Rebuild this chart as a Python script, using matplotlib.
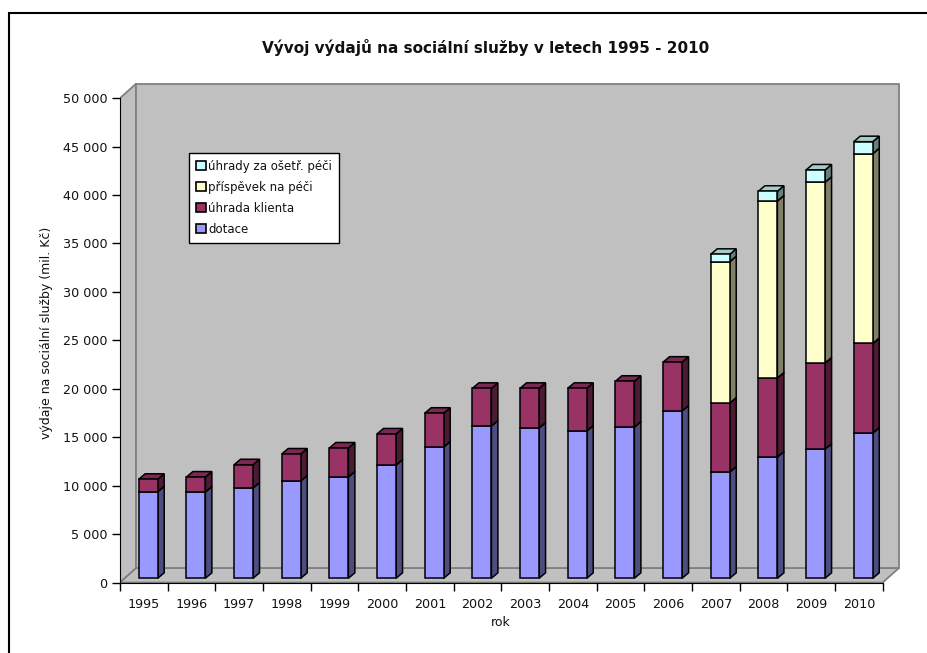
# encoding:utf-8
# social services spending 1995-2010, stacked bars with fake 3D depth

import matplotlib.pyplot as plt
from matplotlib.patches import Polygon, Rectangle

YEARS = ['1995', '1996', '1997', '1998', '1999', '2000', '2001', '2002',
         '2003', '2004', '2005', '2006', '2007', '2008', '2009', '2010']
DOTACE = [8940, 8910, 9320, 10040, 10460, 11690, 13550, 15720,
          15510, 15200, 15610, 17270, 10970, 12520, 13340, 14990]
UHRADA_KLIENTA = [1280, 1540, 2400, 2790, 2990, 3210, 3490, 3890,
                  4100, 4410, 4730, 5040, 7120, 8160, 8890, 9250]
PRISPEVEK = [0, 0, 0, 0, 0, 0, 0, 0, 0, 0, 0, 0, 14590, 18270, 18650, 19590]
UHRADY_OSETR = [0, 0, 0, 0, 0, 0, 0, 0, 0, 0, 0, 0, 760, 1000, 1270, 1240]

Y_TICKS = [0, 5000, 10000, 15000, 20000, 25000, 30000, 35000, 40000, 45000, 50000]

SERIES = [
    (DOTACE, 'dotace', '#9999FF', '#4D4D80', '#7A7ACC'),
    (UHRADA_KLIENTA, 'úhrada klienta', '#993366', '#4D1A33', '#7A2952'),
    (PRISPEVEK, 'příspěvek na péči', '#FFFFCC', '#808066', '#CCCCA3'),
    (UHRADY_OSETR, 'úhrady za ošetř. péči', '#CCFFFF', '#668080', '#A3CCCC'),
]

W, H = 928, 653
X0, Y0 = 120, 582.5       # axis origin, px from top left
CAT_W = 47.67
PX_PER_VAL = 484.4 / 50000
WALL_DX, WALL_DY = 16.2, 14.5


def to_x(px):
    return px / CAT_W


def to_y(px):
    return px / PX_PER_VAL


def draw_walls(ax):
    dx, dy = to_x(WALL_DX), to_y(WALL_DY)
    n = len(YEARS)
    style = dict(facecolor='#C0C0C0', edgecolor='#808080', linewidth=1.3, zorder=1)
    ax.add_patch(Polygon([(0, 0), (dx, dy), (dx, 50000 + dy), (0, 50000)], **style))
    ax.add_patch(Polygon([(0, 0), (n, 0), (n + dx, dy), (dx, dy)], **style))
    ax.add_patch(Rectangle((dx, dy), n, 50000, **style))


def draw_bar(ax, i, bottom, value, front, side, top):
    # front face sits a bit inside the floor
    left = i + to_x(18.7)
    right = left + to_x(19)
    lift = to_y(4.2)
    dx, dy = to_x(6.5), to_y(5.5)
    y1 = bottom + lift
    y2 = bottom + value + lift
    style = dict(edgecolor='black', linewidth=1.1, joinstyle='miter', zorder=3 + i * 0.01)
    ax.add_patch(Polygon([(right, y1), (right + dx, y1 + dy), (right + dx, y2 + dy), (right, y2)],
                         facecolor=side, **style))
    ax.add_patch(Polygon([(left, y2), (right, y2), (right + dx, y2 + dy), (left + dx, y2 + dy)],
                         facecolor=top, **style))
    ax.add_patch(Rectangle((left, y1), right - left, y2 - y1, facecolor=front, **style))


fig = plt.figure(figsize=(W / 100, H / 100), dpi=100)
plt.rcParams['font.family'] = 'DejaVu Sans'

# outer chart frame runs off the picture on the right and bottom
fig.add_artist(Rectangle((9 / W, -0.1), 1.1, 1.1 - 12.7 / H,
                         transform=fig.transFigure, fill=False, edgecolor='black', linewidth=1.5))

plot_w = 782
plot_h = 500
ax = fig.add_axes([X0 / W, 1 - Y0 / H, plot_w / W, plot_h / H])
ax.set_xlim(0, to_x(plot_w))
ax.set_ylim(0, to_y(plot_h))
ax.patch.set_visible(False)

draw_walls(ax)

for i in range(len(YEARS)):
    bottom = 0
    for values, label, front, side, top in SERIES:
        if values[i] > 0:
            draw_bar(ax, i, bottom, values[i], front, side, top)
            bottom += values[i]

for name in ('top', 'right'):
    ax.spines[name].set_visible(False)
ax.spines['left'].set_bounds(0, 50000)
ax.spines['bottom'].set_bounds(0, len(YEARS))
ax.spines['left'].set_zorder(5)
ax.spines['bottom'].set_zorder(5)

ax.set_yticks(Y_TICKS)
ax.set_yticklabels([f'{t:,}'.replace(',', ' ') for t in Y_TICKS], fontsize=9.2, color='#111111')
ax.set_xticks(range(len(YEARS) + 1))
ax.set_xticklabels([])
ax.set_xticks([i + 0.5 for i in range(len(YEARS))], minor=True)
ax.set_xticklabels(YEARS, minor=True, fontsize=9.2, color='#111111')
ax.tick_params(axis='x', which='major', length=6, width=1)
ax.tick_params(axis='x', which='minor', length=0, pad=11)
ax.tick_params(axis='y', length=6, width=1, pad=3)

fig.text(486 / W, 1 - 47 / H, 'Vývoj výdajů na sociální služby v letech 1995 - 2010',
         ha='center', va='center', fontsize=11, fontweight='bold', color='#111111')
fig.text(501 / W, 1 - 623 / H, 'rok', ha='center', va='center', fontsize=9, color='#111111')
fig.text(47 / W, 1 - 333 / H, 'výdaje na sociální služby (mil. Kč)', rotation=90,
         ha='center', va='center', fontsize=9, color='#111111')

# legend box, entries listed top down
handles = [Rectangle((0, 0), 1, 1, facecolor=s[2], edgecolor='black', linewidth=1.2)
           for s in reversed(SERIES)]
labels = [s[1] for s in reversed(SERIES)]
leg = fig.legend(handles, labels, loc='upper left', bbox_to_anchor=(189 / W, 1 - 152.5 / H),
                 bbox_transform=fig.transFigure, fontsize=8.5, frameon=True, fancybox=False,
                 borderaxespad=0, borderpad=0.6, labelspacing=0.68, handlelength=0.85,
                 handleheight=0.85, handletextpad=0.2, edgecolor='black', framealpha=1,
                 labelcolor='#111111')
leg.get_frame().set_linewidth(1.0)
leg.set_zorder(10)

fig.savefig('out.png', dpi=100)
